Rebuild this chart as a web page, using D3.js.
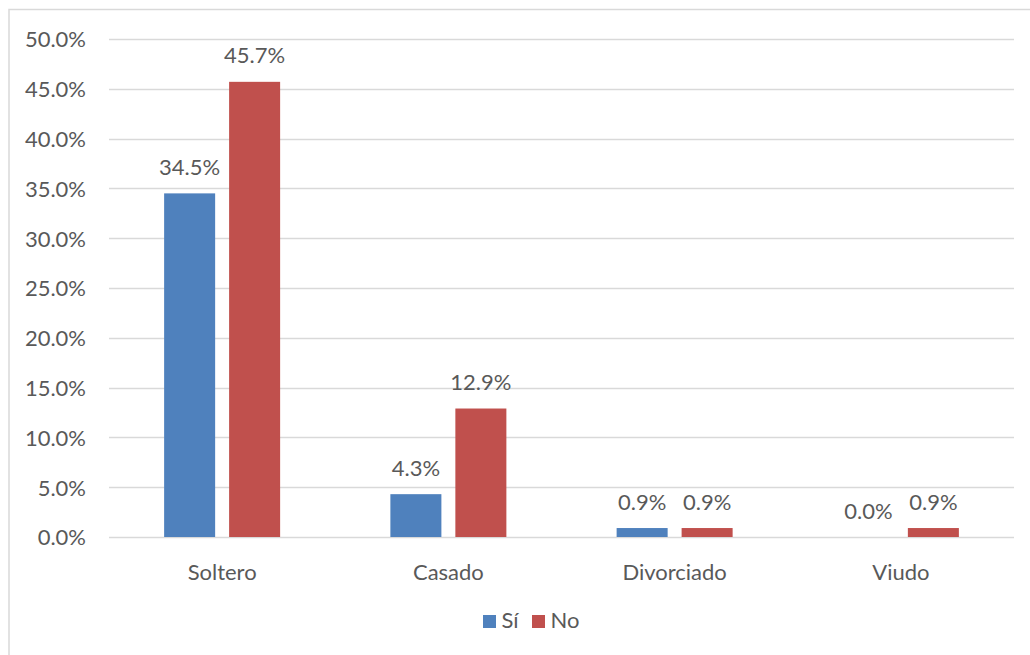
<!DOCTYPE html>
<html>
<head>
<meta charset="utf-8">
<script src="https://cdn.jsdelivr.net/npm/d3@7"></script>
<style>
  html, body { margin: 0; padding: 0; background: #fff; }
  svg { display: block; }
  text { font-family: Lato, "Open Sans", sans-serif; fill: #595959; }
</style>
</head>
<body>
<svg id="chart" width="1030" height="655"></svg>
<script>
// Estado civil por respuesta (porcentajes)
const categories = ["Soltero", "Casado", "Divorciado", "Viudo"];
const seriesNames = ["Sí", "No"];
const valuesSi = [34.5, 4.3, 0.9, 0.0];
const valuesNo = [45.7, 12.9, 0.9, 0.9];
const yTicks = [0, 5, 10, 15, 20, 25, 30, 35, 40, 45, 50];
const seriesColors = ["#4F81BD", "#C0504D"];

const svg = d3.select("#chart");
const W = 1030, H = 655;
const fontSize = 22;

// outer chart frame
svg.append("rect")
  .attr("x", 9).attr("y", 9.5)
  .attr("width", W + 10).attr("height", H + 10)
  .attr("fill", "#fff").attr("stroke", "#d9d9d9").attr("stroke-width", 1.5);

const plot = { left: 109, right: 1014, top: 39, bottom: 537 };

const y = d3.scaleLinear().domain([0, 50]).range([plot.bottom, plot.top]);
const x0 = d3.scaleBand().domain(categories).range([plot.left, plot.right]).padding(0);
const groupHalf = 58;
const x1 = d3.scaleBand().domain(seriesNames).range([-groupHalf, groupHalf]).paddingInner(0.215).paddingOuter(0);

// horizontal gridlines
svg.append("g").selectAll("line").data(yTicks).join("line")
  .attr("x1", plot.left).attr("x2", plot.right)
  .attr("y1", d => Math.round(y(d)) + 0.5).attr("y2", d => Math.round(y(d)) + 0.5)
  .attr("stroke", "#d9d9d9").attr("stroke-width", 1.5);

// y-axis labels
const fmt = d => d.toFixed(1) + "%";
const yAxis = d3.axisLeft(y).tickValues(yTicks).tickFormat(fmt).tickSize(0).tickPadding(0);
const gy = svg.append("g").attr("transform", `translate(86,0)`).call(yAxis);
gy.select(".domain").remove();
gy.selectAll("text")
  .style("font-family", "Lato, 'Open Sans', sans-serif")
  .attr("font-size", fontSize).attr("fill", "#595959").attr("dy", "0.36em");

// bars
const data = categories.map((c, i) => ({ cat: c, vals: [valuesSi[i], valuesNo[i]] }));
const groups = svg.append("g").selectAll("g").data(data).join("g")
  .attr("transform", d => `translate(${x0(d.cat) + x0.bandwidth() / 2},0)`);

groups.selectAll("rect").data(d => d.vals.map((v, j) => ({ s: seriesNames[j], v, j }))).join("rect")
  .attr("x", d => x1(d.s))
  .attr("width", x1.bandwidth())
  .attr("y", d => y(d.v))
  .attr("height", d => y(0) - y(d.v))
  .attr("fill", d => seriesColors[d.j]);

// value labels
groups.selectAll("text").data(d => d.vals.map((v, j) => ({ s: seriesNames[j], v, j }))).join("text")
  .attr("x", d => x1(d.s) + x1.bandwidth() / 2)
  .attr("y", d => y(d.v) - 18.5)
  .attr("text-anchor", "middle")
  .attr("font-size", fontSize)
  .text(d => fmt(d.v));

// category axis labels
const xAxis = d3.axisBottom(x0).tickSize(0).tickPadding(0);
const gx = svg.append("g").attr("transform", `translate(0,${plot.bottom})`).call(xAxis);
gx.select(".domain").remove();
gx.selectAll("text")
  .style("font-family", "Lato, 'Open Sans', sans-serif")
  .attr("font-size", fontSize).attr("fill", "#595959").attr("y", 43).attr("dy", 0);

// legend
const legend = svg.append("g");
const legendItems = [
  { name: seriesNames[0], color: seriesColors[0], x: 483 },
  { name: seriesNames[1], color: seriesColors[1], x: 532 }
];
legendItems.forEach(it => {
  legend.append("rect").attr("x", it.x).attr("y", 615).attr("width", 13).attr("height", 13).attr("fill", it.color);
  legend.append("text").attr("x", it.x + 18.5).attr("y", 628).attr("font-size", fontSize).text(it.name);
});
</script>
</body>
</html>
